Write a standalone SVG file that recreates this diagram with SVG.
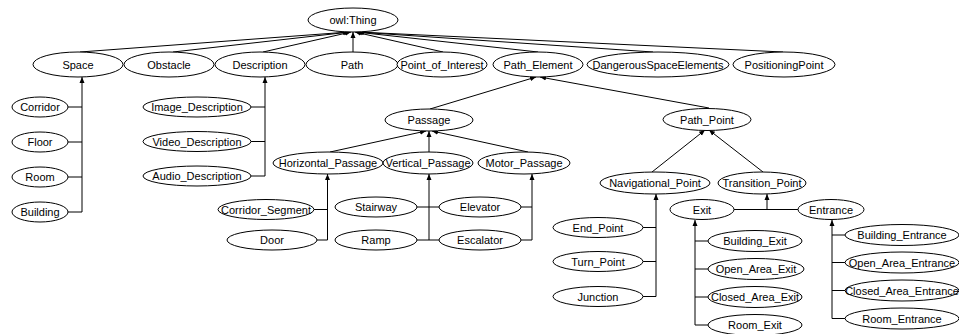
<svg xmlns="http://www.w3.org/2000/svg" width="959" height="334" viewBox="0 0 959 334">
<defs>
<style>
ellipse{fill:#fff;stroke:#000;stroke-width:1}
text{font-family:"Liberation Sans",Arial,sans-serif;font-size:11px;fill:#000;text-anchor:middle}
.e{fill:none;stroke:#000;stroke-width:1}
.a{marker-end:url(#arr)}
</style>
<marker id="arr" markerWidth="6" markerHeight="6" refX="6" refY="3" orient="auto" markerUnits="userSpaceOnUse">
<path d="M0,0.5 L6,3 L0,5.5 Z" fill="#000"/>
</marker>
</defs>
<rect width="959" height="334" fill="#fff"/>
<g id="connectors">
<path class="e a" d="M80,52 L349,32"/>
<path class="e a" d="M173,52 L350,32"/>
<path class="e a" d="M263,52 L351,32"/>
<path class="e a" d="M353,52 L353,32"/>
<path class="e a" d="M443,52 L355,32"/>
<path class="e a" d="M538,52 L356,32"/>
<path class="e a" d="M653,52 L357,32"/>
<path class="e a" d="M783,52 L358,32"/>
<path class="e a" d="M430,109 L536,77"/>
<path class="e a" d="M709,108 L540,77"/>
<path class="e a" d="M330,152 L426,131"/>
<path class="e a" d="M429,152 L429,131"/>
<path class="e a" d="M528,152 L432,131"/>
<path class="e a" d="M652,172 L705,130"/>
<path class="e a" d="M763,172 L709,130"/>
<path class="e" d="M68,107H82M68,142H82M68,177H82M68,212H82"/>
<path class="e a" d="M82,212V77"/>
<path class="e" d="M251,107H265M251,141.5H265M251,176H265"/>
<path class="e a" d="M265,176V77"/>
<path class="e" d="M314,209.5H327.5M317,240H327.5"/>
<path class="e a" d="M327.5,240V174"/>
<path class="e" d="M417,207H439M417,240H439"/>
<path class="e a" d="M429,240V174"/>
<path class="e" d="M521,207H532M521,240H532"/>
<path class="e a" d="M532,240V174"/>
<path class="e" d="M734,209.5H798"/>
<path class="e a" d="M767,209.5V194"/>
<path class="e" d="M643,227.5H656M643,261.5H656M643,296.5H656"/>
<path class="e a" d="M656,296.5V194"/>
<path class="e" d="M695,241H708M695,269H708M695,297H708M695,325H708"/>
<path class="e a" d="M695,325V220"/>
<path class="e" d="M832,235H845M832,262.5H845M832,290.5H845M832,318.5H845"/>
<path class="e a" d="M832,318.5V220"/>
</g>
<g id="owl_Thing"><ellipse cx="353" cy="20" rx="45" ry="12"/><text x="353" y="24">owl:Thing</text></g>
<g id="Space"><ellipse cx="78" cy="64.5" rx="45" ry="12.5"/><text x="78" y="68.5">Space</text></g>
<g id="Obstacle"><ellipse cx="169" cy="64.5" rx="45" ry="12.5"/><text x="169" y="68.5">Obstacle</text></g>
<g id="Description"><ellipse cx="260" cy="64.5" rx="45" ry="12.5"/><text x="260" y="68.5">Description</text></g>
<g id="Path"><ellipse cx="352" cy="64.5" rx="46" ry="12.5"/><text x="352" y="68.5">Path</text></g>
<g id="Point_of_Interest"><ellipse cx="442" cy="64.5" rx="45" ry="12.5"/><text x="442" y="68.5">Point_of_Interest</text></g>
<g id="Path_Element"><ellipse cx="538" cy="64.5" rx="45" ry="12.5"/><text x="538" y="68.5">Path_Element</text></g>
<g id="DangerousSpaceElements"><ellipse cx="658" cy="64.5" rx="71" ry="12.5"/><text x="658" y="68.5">DangerousSpaceElements</text></g>
<g id="PositioningPoint"><ellipse cx="784" cy="64.5" rx="51" ry="12.5"/><text x="784" y="68.5">PositioningPoint</text></g>
<g id="Corridor"><ellipse cx="40" cy="107" rx="28" ry="10"/><text x="40" y="111">Corridor</text></g>
<g id="Floor"><ellipse cx="40" cy="142" rx="28" ry="10"/><text x="40" y="146">Floor</text></g>
<g id="Room"><ellipse cx="40" cy="177" rx="28" ry="10"/><text x="40" y="181">Room</text></g>
<g id="Building"><ellipse cx="40" cy="212" rx="28" ry="10"/><text x="40" y="216">Building</text></g>
<g id="Image_Description"><ellipse cx="197" cy="107" rx="54" ry="10"/><text x="197" y="111">Image_Description</text></g>
<g id="Video_Description"><ellipse cx="197" cy="141.5" rx="54" ry="10"/><text x="197" y="145.5">Video_Description</text></g>
<g id="Audio_Description"><ellipse cx="197" cy="176" rx="54" ry="10"/><text x="197" y="180">Audio_Description</text></g>
<g id="Passage"><ellipse cx="429" cy="120" rx="44" ry="11"/><text x="429" y="124">Passage</text></g>
<g id="Path_Point"><ellipse cx="707" cy="119.5" rx="44" ry="11"/><text x="707" y="123.5">Path_Point</text></g>
<g id="Horizontal_Passage"><ellipse cx="328" cy="163" rx="55" ry="11"/><text x="328" y="167">Horizontal_Passage</text></g>
<g id="Vertical_Passage"><ellipse cx="428" cy="163" rx="45" ry="11"/><text x="428" y="167">Vertical_Passage</text></g>
<g id="Motor_Passage"><ellipse cx="524" cy="163" rx="46" ry="11"/><text x="524" y="167">Motor_Passage</text></g>
<g id="Corridor_Segment"><ellipse cx="266" cy="209.5" rx="48" ry="10"/><text x="266" y="213.5">Corridor_Segment</text></g>
<g id="Door"><ellipse cx="272" cy="240" rx="45" ry="10"/><text x="272" y="244">Door</text></g>
<g id="Stairway"><ellipse cx="376" cy="207" rx="41" ry="10"/><text x="376" y="211">Stairway</text></g>
<g id="Ramp"><ellipse cx="376" cy="240" rx="41" ry="10"/><text x="376" y="244">Ramp</text></g>
<g id="Elevator"><ellipse cx="480" cy="207" rx="41" ry="10"/><text x="480" y="211">Elevator</text></g>
<g id="Escalator"><ellipse cx="480" cy="240" rx="41" ry="10"/><text x="480" y="244">Escalator</text></g>
<g id="Navigational_Point"><ellipse cx="655" cy="183" rx="55" ry="11"/><text x="655" y="187">Navigational_Point</text></g>
<g id="Transition_Point"><ellipse cx="762" cy="183" rx="44" ry="11"/><text x="762" y="187">Transition_Point</text></g>
<g id="Exit"><ellipse cx="702" cy="209.5" rx="32" ry="10"/><text x="702" y="213.5">Exit</text></g>
<g id="Entrance"><ellipse cx="831" cy="209.5" rx="33" ry="10"/><text x="831" y="213.5">Entrance</text></g>
<g id="End_Point"><ellipse cx="598" cy="227.5" rx="45" ry="10"/><text x="598" y="231.5">End_Point</text></g>
<g id="Turn_Point"><ellipse cx="598" cy="261.5" rx="45" ry="10"/><text x="598" y="265.5">Turn_Point</text></g>
<g id="Junction"><ellipse cx="598" cy="296.5" rx="45" ry="10"/><text x="598" y="300.5">Junction</text></g>
<g id="Building_Exit"><ellipse cx="755" cy="241" rx="47" ry="10.5"/><text x="755" y="245">Building_Exit</text></g>
<g id="Open_Area_Exit"><ellipse cx="756" cy="269" rx="48" ry="10.5"/><text x="756" y="273">Open_Area_Exit</text></g>
<g id="Closed_Area_Exit"><ellipse cx="755" cy="297" rx="47" ry="10.5"/><text x="755" y="301">Closed_Area_Exit</text></g>
<g id="Room_Exit"><ellipse cx="755" cy="325" rx="47" ry="10.5"/><text x="755" y="329">Room_Exit</text></g>
<g id="Building_Entrance"><ellipse cx="902" cy="235" rx="57" ry="10.5"/><text x="902" y="239">Building_Entrance</text></g>
<g id="Open_Area_Entrance"><ellipse cx="902" cy="262.5" rx="57" ry="10.5"/><text x="902" y="266.5">Open_Area_Entrance</text></g>
<g id="Closed_Area_Entrance"><ellipse cx="902" cy="290.5" rx="57" ry="10.5"/><text x="902" y="294.5">Closed_Area_Entrance</text></g>
<g id="Room_Entrance"><ellipse cx="902" cy="318.5" rx="57" ry="10.5"/><text x="902" y="322.5">Room_Entrance</text></g>
</svg>
